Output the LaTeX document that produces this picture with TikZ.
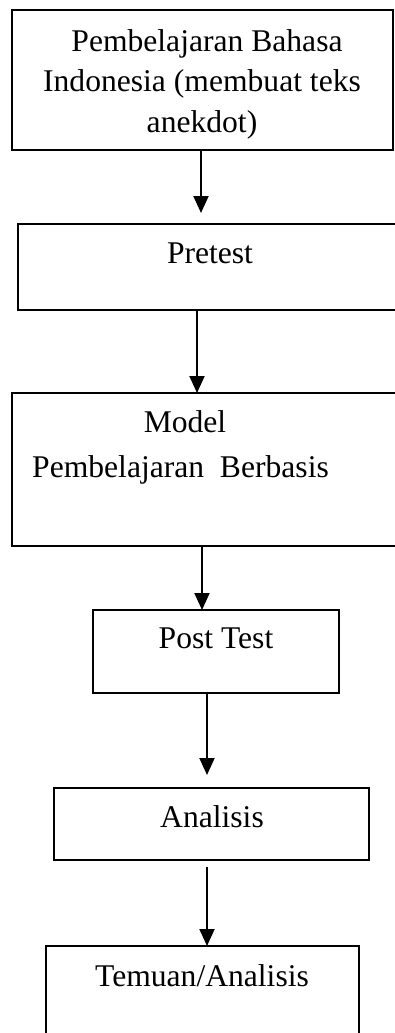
\documentclass[tikz,border=0pt]{standalone}
\usepackage{fontspec}
\setmainfont{Liberation Serif}
\usetikzlibrary{arrows.meta}
\begin{document}
\begin{tikzpicture}[x=1pt,y=-1pt,
  box/.style={draw, line width=1.8pt, inner sep=0pt, outer sep=0pt},
  lbl/.style={anchor=base, inner sep=0pt, font=\fontsize{31.6pt}{40pt}\selectfont},
  arr/.style={line width=2pt, -{Triangle[width=15pt,length=17pt]}}]
\useasboundingbox (0,0) rectangle (395,1033);
\clip (0,0) rectangle (395,1033);
% boxes
\node[box, minimum width=381pt, minimum height=140pt] (b1) at (202.5,80) {};
\node[box, minimum width=402pt, minimum height=86pt] (b2) at (219,267) {};
\node[box, minimum width=408pt, minimum height=153pt] (b3) at (216,469.5) {};
\node[box, minimum width=246pt, minimum height=83pt] (b4) at (216,651.5) {};
\node[box, minimum width=315pt, minimum height=72pt] (b5) at (211.5,824) {};
\node[box, minimum width=313pt, minimum height=114pt] (b6) at (202.5,1003) {};
% texts
\node[lbl] (t1a) at (207,52) {Pembelajaran Bahasa};
\node[lbl] (t1b) at (202,92) {Indonesia (membuat teks};
\node[lbl] (t1c) at (202,132) {anekdot)};
\node[lbl] (t2) at (210,263) {Pretest};
\node[lbl] (t3a) at (185,432) {Model};
\node[lbl, anchor=base west] (t3b) at (32,477) {Pembelajaran\ \ Berbasis};
\node[lbl] (t4) at (216,648) {Post Test};
\node[lbl] (t5) at (212,827) {Analisis};
\node[lbl] (t6) at (202,986) {Temuan/Analisis};
% arrow x positions
\coordinate (c1) at (201,0);
\coordinate (c2) at (197,0);
\coordinate (c3) at (202,0);
\coordinate (c4) at (207,0);
\coordinate (c5) at (207,0);
\draw[arr, shorten >=11pt] (b1.south -| c1) -- (b2.north -| c1);
\draw[arr] (b2.south -| c2) -- (b3.north -| c2);
\draw[arr] (b3.south -| c3) -- (b4.north -| c3);
\draw[arr, shorten >=13pt] (b4.south -| c4) -- (b5.north -| c4);
\draw[arr, shorten <=7pt] (b5.south -| c5) -- (b6.north -| c5);
\end{tikzpicture}
\end{document}
